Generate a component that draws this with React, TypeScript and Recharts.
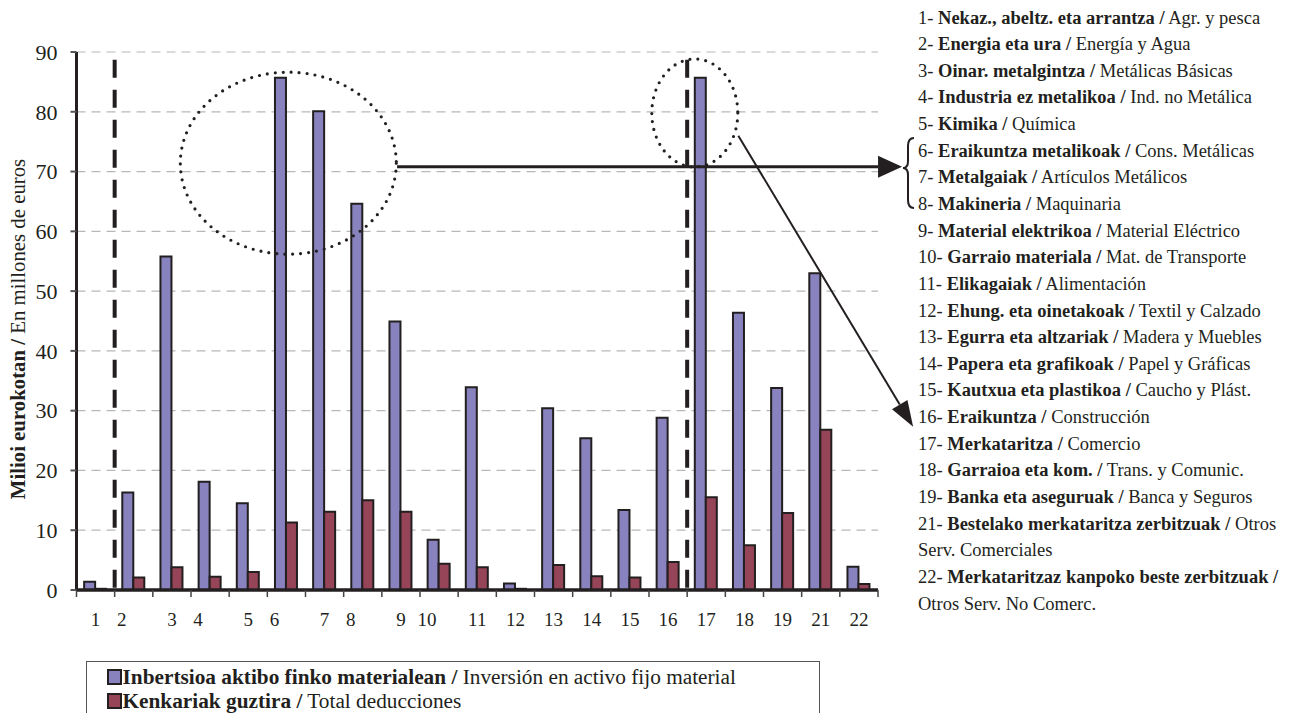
import React from 'react';
import { BarChart, Bar, XAxis, YAxis, CartesianGrid, ReferenceLine, ReferenceDot } from 'recharts';

const categories = ['1', '2', '3', '4', '5', '6', '7', '8', '9', '10', '11', '12', '13', '14', '15', '16', '17', '18', '19', '21', '22'];
const investment = [1.4, 16.3, 55.8, 18.1, 14.5, 85.7, 80.1, 64.6, 44.9, 8.4, 33.9, 1.1, 30.4, 25.4, 13.4, 28.8, 85.7, 46.4, 33.8, 53.0, 3.9];
const deductions = [0.2, 2.1, 3.8, 2.2, 3.0, 11.3, 13.1, 15.0, 13.1, 4.4, 3.8, 0.2, 4.2, 2.3, 2.1, 4.7, 15.5, 7.5, 12.9, 26.8, 1.0];
const yTicks = [0, 10, 20, 30, 40, 50, 60, 70, 80, 90];

const seriesEu = ['Inbertsioa aktibo finko materialean', 'Kenkariak guztira'];
const seriesEs = ['Inversión en activo fijo material', 'Total deducciones'];

const sectorEu = [
  'Nekaz., abeltz. eta arrantza', 'Energia eta ura', 'Oinar. metalgintza', 'Industria ez metalikoa',
  'Kimika', 'Eraikuntza metalikoak', 'Metalgaiak', 'Makineria', 'Material elektrikoa',
  'Garraio materiala', 'Elikagaiak', 'Ehung. eta oinetakoak', 'Egurra eta altzariak',
  'Papera eta grafikoak', 'Kautxua eta plastikoa', 'Eraikuntza', 'Merkataritza',
  'Garraioa eta kom.', 'Banka eta aseguruak', 'Bestelako merkataritza zerbitzuak',
  'Merkataritzaz kanpoko beste zerbitzuak',
];
const sectorEs = [
  'Agr. y pesca', 'Energía y Agua', 'Metálicas Básicas', 'Ind. no Metálica', 'Química',
  'Cons. Metálicas', 'Artículos Metálicos', 'Maquinaria', 'Material Eléctrico',
  'Mat. de Transporte', 'Alimentación', 'Textil y Calzado', 'Madera y Muebles',
  'Papel y Gráficas', 'Caucho y Plást.', 'Construcción', 'Comercio', 'Trans. y Comunic.',
  'Banca y Seguros', 'Otros Serv. Comerciales', 'Otros Serv. No Comerc.',
];

// long rows wrap: how many Spanish words stay on the first line
const esWordsOnFirstLine: Record<string, number> = { '21': 1, '22': 0 };

// labels that sit a little left of their bar pair in the original
const shiftedLabels = ['2', '4', '6', '8', '10'];

// slot = position of each category on a hidden 0..21 numeric axis (used by the annotations)
const data = categories.map((c, i) => ({ name: c, inv: investment[i], ded: deductions[i], slot: i + 0.5 }));

const INK = '#231f20';
const BLUE = '#8883bf';
const RED = '#964457';
const FONT = "'Liberation Serif', 'DejaVu Serif', serif";

const XTick = (props: any) => {
  const { x, y, payload } = props;
  const off = payload.offset ?? 19;
  const isLast = payload.value === categories[categories.length - 1];
  const shift = shiftedLabels.includes(payload.value) ? -12 : 0;
  return (
    <g>
      <line x1={x - off} x2={x - off} y1={y} y2={y + 7} stroke="#444" strokeWidth={1.5} />
      {isLast && <line x1={x + off} x2={x + off} y1={y} y2={y + 7} stroke="#444" strokeWidth={1.5} />}
      <text x={x + shift} y={y + 36} textAnchor="middle" fontSize={19} fontFamily={FONT} fill={INK}>
        {payload.value}
      </text>
    </g>
  );
};

const YTitle = (props: any) => {
  const vb = props.viewBox || { x: 0, y: 52, width: 76, height: 538 };
  const cx = vb.x + 17;
  const cy = vb.y + vb.height / 2 + 8;
  return (
    <text
      transform={`translate(${cx},${cy}) rotate(-90)`}
      textAnchor="middle"
      dominantBaseline="central"
      fontSize={20.8}
      fontFamily={FONT}
      fill={INK}
    >
      <tspan fontWeight="bold">Milioi eurokotan / </tspan>
      <tspan>En millones de euros</tspan>
    </text>
  );
};

const dottedEllipse = (rx: number, ry: number) => (p: any) => (
  <ellipse
    cx={p.cx}
    cy={p.cy}
    rx={rx}
    ry={ry}
    fill="none"
    stroke={INK}
    strokeWidth={3.2}
    strokeDasharray="0 8"
    strokeLinecap="round"
  />
);

const arrowShape = (head: number, half: number, width: number) => (p: any) => {
  const { x1, y1, x2, y2 } = p;
  const dx = x2 - x1;
  const dy = y2 - y1;
  const len = Math.sqrt(dx * dx + dy * dy);
  const ux = dx / len;
  const uy = dy / len;
  const bx = x2 - ux * head;
  const by = y2 - uy * head;
  const pts = `${x2},${y2} ${bx - uy * half},${by + ux * half} ${bx + uy * half},${by - ux * half}`;
  return (
    <g>
      <line x1={x1} y1={y1} x2={bx} y2={by} stroke={INK} strokeWidth={width} />
      <polygon points={pts} fill={INK} />
    </g>
  );
};

const SectorRow = ({ code, eu, es }: { code: string; eu: string; es: string }) => {
  const keep = esWordsOnFirstLine[code];
  if (keep === undefined) {
    return (
      <div style={{ whiteSpace: 'nowrap' }}>
        {code}- <b>{eu} /</b> {es}
      </div>
    );
  }
  const words = es.split(' ');
  const first = words.slice(0, keep).join(' ');
  const rest = words.slice(keep).join(' ');
  return (
    <>
      <div style={{ whiteSpace: 'nowrap' }}>
        {code}- <b>{eu} /</b>
        {first ? ` ${first}` : ''}
      </div>
      <div style={{ whiteSpace: 'nowrap' }}>{rest}</div>
    </>
  );
};

export default function App() {
  return (
    <div
      style={{
        position: 'absolute',
        left: 0,
        top: 0,
        width: 1298,
        height: 713,
        overflow: 'hidden',
        background: '#fff',
        fontFamily: FONT,
        color: INK,
      }}
    >
      <div style={{ position: 'absolute', left: 0, top: 0 }}>
        <BarChart
          width={930}
          height={630}
          data={data}
          margin={{ top: 52, right: 52, left: 0, bottom: 0 }}
          barCategoryGap="20%"
          barGap={0}
        >
          <CartesianGrid vertical={false} strokeDasharray="9 6" stroke="#b8b8b8" strokeWidth={1.2} />
          <XAxis
            dataKey="name"
            interval={0}
            height={40}
            tickSize={0}
            tickMargin={0}
            tickLine={false}
            axisLine={{ stroke: INK, strokeWidth: 3.5 }}
            tick={<XTick />}
          />
          <XAxis xAxisId="pos" dataKey="slot" type="number" domain={[0, 21]} allowDataOverflow hide />
          <YAxis
            width={76.5}
            domain={[0, 90]}
            ticks={yTicks}
            interval={0}
            tickSize={6}
            tickMargin={13}
            axisLine={{ stroke: INK, strokeWidth: 3 }}
            tickLine={{ stroke: '#555', strokeWidth: 2 }}
            tick={{ fontSize: 22, fontFamily: FONT, fill: INK }}
            label={<YTitle />}
          />
          <Bar dataKey="inv" name={seriesEu[0]} fill={BLUE} stroke={INK} strokeWidth={2} isAnimationActive={false} />
          <Bar dataKey="ded" name={seriesEu[1]} fill={RED} stroke={INK} strokeWidth={2} isAnimationActive={false} />

          <ReferenceLine
            xAxisId="pos"
            segment={[{ x: 1, y: 88.7 }, { x: 1, y: -0.9 }]}
            stroke={INK}
            strokeWidth={4}
            strokeDasharray="18 12"
            ifOverflow="visible"
          />
          <ReferenceLine
            xAxisId="pos"
            segment={[{ x: 16, y: 88.7 }, { x: 16, y: -0.6 }]}
            stroke={INK}
            strokeWidth={4}
            strokeDasharray="18 12"
            ifOverflow="visible"
          />
          <ReferenceDot xAxisId="pos" x={5.55} y={71.4} ifOverflow="visible" shape={dottedEllipse(108, 91)} />
          <ReferenceDot xAxisId="pos" x={16.2} y={79.8} ifOverflow="visible" shape={dottedEllipse(43, 54)} />
          <ReferenceLine
            xAxisId="pos"
            segment={[{ x: 8.4, y: 70.8 }, { x: 21.63, y: 70.8 }]}
            ifOverflow="visible"
            shape={arrowShape(24, 11, 3)}
          />
          <ReferenceLine
            xAxisId="pos"
            segment={[{ x: 17.34, y: 76.0 }, { x: 21.92, y: 27.3 }]}
            ifOverflow="visible"
            shape={arrowShape(26, 9, 2)}
          />
        </BarChart>
      </div>

      <svg style={{ position: 'absolute', left: 0, top: 0 }} width={1298} height={713} pointerEvents="none">
        <path
          d="M 914 138 Q 908 138 908 146 L 908 161 Q 908 168 903 168 Q 908 168 908 175 L 908 200 Q 908 208 914 208"
          fill="none"
          stroke={INK}
          strokeWidth={2}
        />
      </svg>

      <div
        style={{
          position: 'absolute',
          left: 918,
          top: 4.5,
          fontSize: 18.5,
          lineHeight: '26.64px',
        }}
      >
        {categories.map((c, i) => (
          <SectorRow key={c} code={c} eu={sectorEu[i]} es={sectorEs[i]} />
        ))}
      </div>

      <div
        style={{
          position: 'absolute',
          left: 86,
          top: 661,
          width: 732,
          height: 70,
          borderTop: '1.5px solid #555',
          borderLeft: '1.5px solid #555',
          borderRight: '1.5px solid #555',
          paddingTop: 3,
          fontSize: 21.3,
          lineHeight: '24px',
        }}
      >
        {[BLUE, RED].map((color, i) => (
          <div key={color} style={{ display: 'flex', alignItems: 'center', whiteSpace: 'nowrap' }}>
            <span
              style={{
                display: 'inline-block',
                width: 11,
                height: 12,
                background: color,
                border: `2px solid ${INK}`,
                marginLeft: 19.5,
                marginRight: 1,
              }}
            />
            <span>
              <b>{seriesEu[i]} /</b> {seriesEs[i]}
            </span>
          </div>
        ))}
      </div>
    </div>
  );
}
